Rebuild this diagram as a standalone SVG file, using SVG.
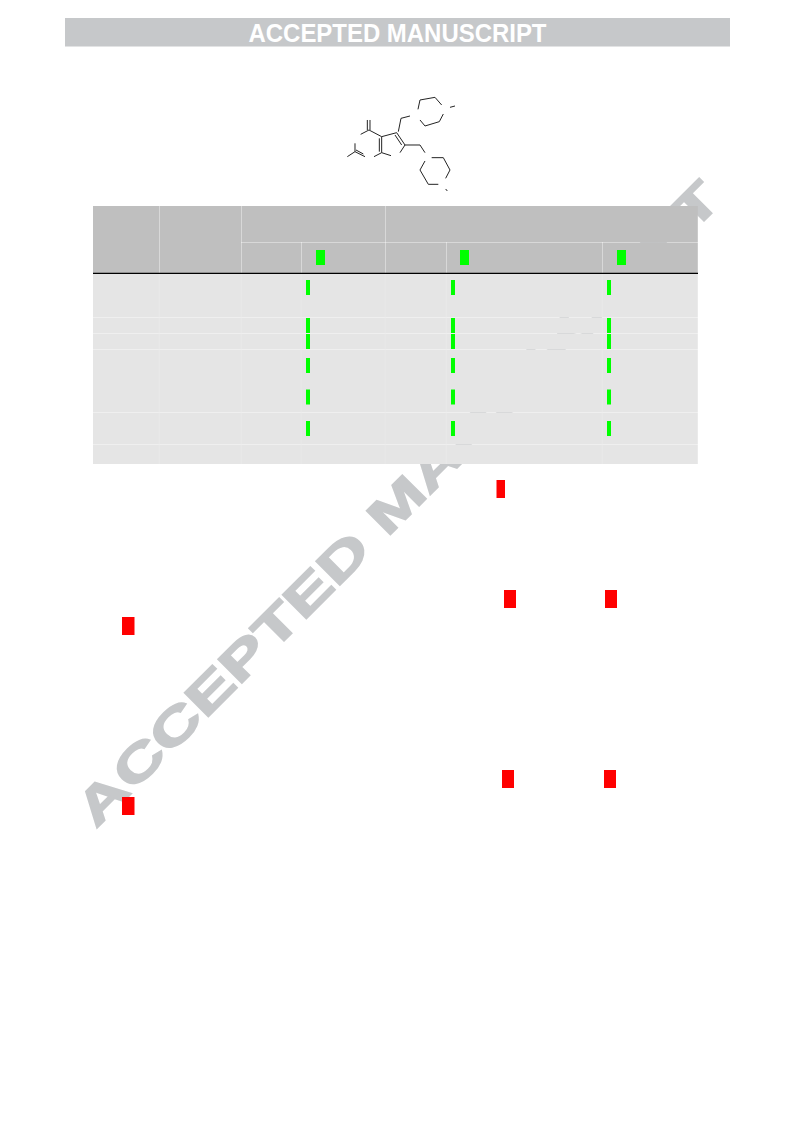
<svg xmlns="http://www.w3.org/2000/svg" width="793" height="1121" viewBox="0 0 793 1121">
<style>
.banner{fill:#c6c8ca}
.bt{font-family:"Liberation Sans",Arial,sans-serif;font-weight:700;font-size:25px;fill:#fff;text-anchor:middle}
.wm{font-family:"Liberation Sans",Arial,sans-serif;font-weight:700;font-size:49px;fill:#c6c8ca;stroke:#c6c8ca;stroke-width:1.6}
.h{fill:#bfbfbf}
.b{fill:#e5e5e5}
.g{fill:#00ff00}
.r{fill:#ff0000}
.m{fill:none;stroke:#222;stroke-width:3}
</style>
<rect fill="#fff" width="793" height="1121"/>
<g id="banner"><rect class="banner" x="65" y="18" width="665" height="28.500"/><text class="bt" x="397.5" y="42" textLength="298" lengthAdjust="spacingAndGlyphs">ACCEPTED MANUSCRIPT</text></g>
<g id="watermark"><text class="wm" transform="translate(96,829) rotate(-45) scale(1.455,1)">ACCEPTED MANUSCRIPT</text></g>
<g id="molecule" transform="translate(330,90) scale(0.3333)">
<path class="m" d="M264 58L270 30L315 22L335 45M340 72L328 95L285 108L270 90M360 52L375 48M205 125L213 85L240 78M155 140L200 128L225 165L210 188M195 135L215 165M155 140V188M148 145V185M155 188L183 197M155 140L117 120L92 133M112 120V90M120 120V90M155 188L132 200M105 200L75 185L52 200M78 180L100 192M75 185V160M225 165H270L285 188M305 203H340L360 240L347 265M325 283H295L270 240L285 213M347 297L352 303"/>
</g>
<g id="table">
<rect class="h" x="93" y="206" width="66" height="67"/>
<rect class="h" x="159.400" y="206" width="81.600" height="67"/>
<rect class="h" x="241.400" y="206" width="143.600" height="36"/>
<rect class="h" x="385.400" y="206" width="312.400" height="36"/>
<rect class="h" x="241.400" y="242.400" width="59.600" height="31"/>
<rect class="h" x="301.400" y="242.400" width="83.600" height="31"/>
<rect class="h" x="385.400" y="242.400" width="60.600" height="31"/>
<rect class="h" x="446.400" y="242.400" width="155.600" height="31"/>
<rect class="h" x="602.400" y="242.400" width="95.400" height="31"/>
<g id="body">
<rect class="b" x="93" y="273" width="604.800" height="44"/>
<rect class="b" x="93" y="317.400" width="604.800" height="15.600"/>
<rect class="b" x="93" y="333.400" width="604.800" height="15.600"/>
<rect class="b" x="93" y="349.400" width="604.800" height="62.600"/>
<rect class="b" x="93" y="412.400" width="604.800" height="31.600"/>
<rect class="b" x="93" y="444.400" width="604.800" height="19.600"/>
</g>
<path d="M159.300 273V464M241.300 273V464M446.300 273V464M602.300 273V464" stroke="#ededed" stroke-width="0.6" fill="none"/>
<path d="M301.300 273V464M385.300 273V464" stroke="#e9e9e9" stroke-width="0.6" fill="none"/>
<path d="M93 273.300H698" stroke="#000" stroke-width="1.200"/>
</g>
<g id="green-marks">
<rect class="g" x="316" y="250" width="9" height="15"/><rect class="g" x="460" y="250" width="9" height="15"/><rect class="g" x="617" y="250" width="9" height="15"/>
<rect class="g" x="306" y="280" width="4" height="15"/><rect class="g" x="306" y="318" width="4" height="15"/><rect class="g" x="306" y="334" width="4" height="15"/><rect class="g" x="306" y="358" width="4" height="15"/><rect class="g" x="306" y="389.500" width="4" height="15"/><rect class="g" x="306" y="421" width="4" height="15"/>
<rect class="g" x="451" y="280" width="4" height="15"/><rect class="g" x="451" y="318" width="4" height="15"/><rect class="g" x="451" y="334" width="4" height="15"/><rect class="g" x="451" y="358" width="4" height="15"/><rect class="g" x="451" y="389.500" width="4" height="15"/><rect class="g" x="451" y="421" width="4" height="15"/>
<rect class="g" x="607" y="280" width="4" height="15"/><rect class="g" x="607" y="318" width="4" height="15"/><rect class="g" x="607" y="334" width="4" height="15"/><rect class="g" x="607" y="358" width="4" height="15"/><rect class="g" x="607" y="389.500" width="4" height="15"/><rect class="g" x="607" y="421" width="4" height="15"/>
</g>
<g id="red-marks">
<rect class="r" x="496.500" y="480" width="8.500" height="18"/>
<rect class="r" x="504" y="590" width="12" height="18"/>
<rect class="r" x="605" y="590" width="12" height="18"/>
<rect class="r" x="122" y="617" width="12.500" height="18"/>
<rect class="r" x="502" y="770" width="12" height="18"/>
<rect class="r" x="604" y="770" width="12" height="18"/>
<rect class="r" x="122" y="797" width="12.500" height="18"/>
</g>
</svg>
